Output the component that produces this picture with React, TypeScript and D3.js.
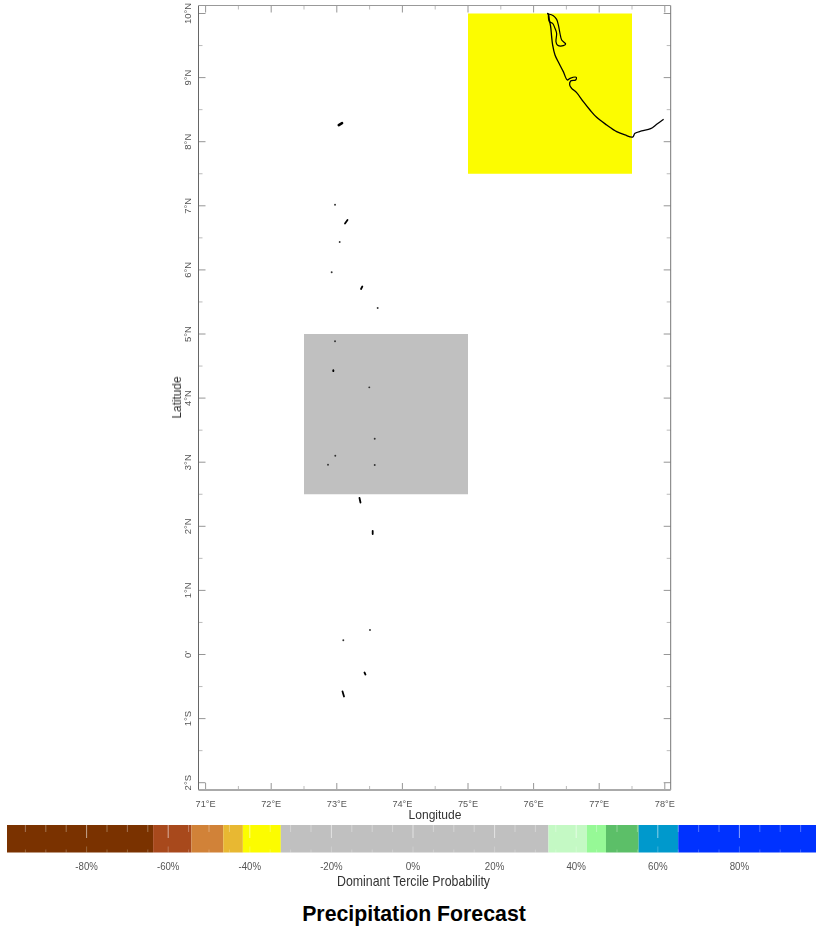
import React from "react";
import * as d3 from "d3";

// Colour classes of the dominant tercile probability (upper edges, %)
const classEdges = [-63.7, -54.3, -46.5, -41.7, -32.4, 33.2, 42.6, 47.3, 55.3, 65];
const classColors = ["#7a3300", "#a8491e", "#d18238", "#e8b830", "#fcfc00", "#c0c0c0", "#c4f9c4", "#96f996", "#5cbf68", "#0099cc", "#0033ff"];
const barLabels = [-80, -60, -40, -20, 0, 20, 40, 60, 80];
const barTicks = d3.range(-95, 100, 5);

// Forecast cells
const cellLon = [75, 72.5];
const cellLat = [7.5, 2.5];
const cellValue = [-37, 0];
const cellSize = 2.5;

// Axes
const lonTicks = [71, 72, 73, 74, 75, 76, 77, 78];
const latTicks = [10, 9, 8, 7, 6, 5, 4, 3, 2, 1, 0, -1, -2];
const latLabels = ["10°N", "9°N", "8°N", "7°N", "6°N", "5°N", "4°N", "3°N", "2°N", "1°N", "0'", "1°S", "2°S"];
const lonMinor = d3.range(71.5, 78, 1);
const latMinor = d3.range(-1.5, 10, 1);

// Coast of south-west India, [lon, lat]
const coast: [number, number][] = [
  [76.205, 10.0], [76.225, 9.992], [76.24, 9.899], [76.26, 9.795], [76.275, 9.639], [76.29, 9.509], [76.326, 9.353],
  [76.387, 9.223], [76.453, 9.093], [76.514, 8.963], [76.555, 8.989], [76.651, 9.004], [76.641, 8.963],
  [76.565, 8.947], [76.55, 8.885], [76.58, 8.833], [76.656, 8.765], [76.758, 8.625], [76.86, 8.495],
  [76.961, 8.38], [77.114, 8.261], [77.266, 8.157], [77.393, 8.105], [77.51, 8.073], [77.546, 8.131],
  [77.647, 8.167], [77.784, 8.203], [77.876, 8.271], [77.982, 8.349],
];
const lagoon: [number, number][] = [
  [76.225, 9.992], [76.301, 9.966], [76.351, 9.909], [76.377, 9.821], [76.402, 9.691], [76.428, 9.587],
  [76.489, 9.524], [76.453, 9.498], [76.362, 9.509], [76.341, 9.561], [76.351, 9.691], [76.326, 9.769],
  [76.29, 9.847], [76.24, 9.873], [76.225, 9.992],
];

// Lakshadweep and Maldives islands
const islands: [number, number][][] = [
  [[73.03, 8.26], [73.08, 8.29]],
  [[73.125, 6.724], [73.163, 6.778]],
  [[73.369, 5.702], [73.389, 5.741]],
  [[72.947, 4.42], [72.947, 4.436]],
  [[73.346, 2.442], [73.361, 2.371]],
  [[73.547, 1.927], [73.547, 1.88]],
  [[73.422, -0.281], [73.437, -0.313]],
  [[73.087, -0.577], [73.11, -0.655]],
];
const islets: [number, number][] = [
  [72.973, 7.017], [73.044, 6.435], [72.922, 5.963], [73.623, 5.406], [72.973, 4.886], [73.495, 4.168],
  [73.578, 3.367], [72.977, 3.101], [72.866, 2.961], [73.578, 2.956], [73.506, 0.382], [73.099, 0.222],
];

const FONT = "'Liberation Sans', Arial, sans-serif";

export default function App() {
  const x = d3.scaleLinear().domain([71, 78]).range([205.6, 664.8]);
  const y = d3.scaleLinear().domain([10, -2]).range([13.5, 782.7]);
  const L = 198.5, R = 670.7, T = 5.5, B = 790;
  const major = 7, minor = 4;
  const line = d3.line<[number, number]>().x((d) => x(d[0])).y((d) => y(d[1])).curve(d3.curveCatmullRom.alpha(0.5));
  const straight = d3.line<[number, number]>().x((d) => x(d[0])).y((d) => y(d[1]));
  const color = d3.scaleThreshold<number, string>().domain(classEdges).range(classColors);

  const bx = d3.scaleLinear().domain([0, 20]).range([413, 494.6]);
  const barL = 7, barR = 816, barT = 825, barB = 852.5;
  const edges = [bx.invert(barL), ...classEdges, bx.invert(barR)];
  const tick = "#8a8a8a";

  return (
    <svg width={816} height={935} viewBox="0 0 816 935" style={{ position: "absolute", left: 0, top: 0, display: "block" }} fontFamily={FONT}>
      <defs>
        <filter id="soft" x="-2%" y="-2%" width="104%" height="104%">
          <feGaussianBlur stdDeviation="0.45" />
        </filter>
      </defs>
      <rect width={816} height={935} fill="#fff" />
      <g filter="url(#soft)">
        {cellLon.map((lon, i) => (
          <rect key={i} x={x(lon)} y={y(cellLat[i] + cellSize)} width={x(lon + cellSize) - x(lon)} height={y(cellLat[i]) - y(cellLat[i] + cellSize)} fill={color(cellValue[i])} />
        ))}
        <path d={line(coast) ?? ""} fill="none" stroke="#000" strokeWidth={1.3} />
        <path d={line(lagoon) ?? ""} fill="none" stroke="#000" strokeWidth={1.2} />
        {islands.map((d, i) => (
          <path key={i} d={straight(d) ?? ""} stroke="#000" strokeWidth={i === 0 ? 2.6 : 1.8} strokeLinecap="round" fill="none" />
        ))}
        {islets.map((d, i) => (
          <circle key={i} cx={x(d[0])} cy={y(d[1])} r={0.95} fill="#333" />
        ))}

        {lonTicks.map((d) => (
          <g key={d} stroke={tick} strokeWidth={0.9}>
            <line x1={x(d)} x2={x(d)} y1={B} y2={B - major} />
            <line x1={x(d)} x2={x(d)} y1={T} y2={T + major} />
          </g>
        ))}
        {lonMinor.map((d) => (
          <g key={d} stroke="#aaa" strokeWidth={0.8}>
            <line x1={x(d)} x2={x(d)} y1={B} y2={B - minor} />
            <line x1={x(d)} x2={x(d)} y1={T} y2={T + minor} />
          </g>
        ))}
        {latTicks.map((d) => (
          <g key={d} stroke={tick} strokeWidth={0.9}>
            <line y1={y(d)} y2={y(d)} x1={L} x2={L + major} />
            <line y1={y(d)} y2={y(d)} x1={R} x2={R - major} />
          </g>
        ))}
        {latMinor.map((d) => (
          <g key={d} stroke="#aaa" strokeWidth={0.8}>
            <line y1={y(d)} y2={y(d)} x1={L} x2={L + minor} />
            <line y1={y(d)} y2={y(d)} x1={R} x2={R - minor} />
          </g>
        ))}
        <line x1={L} x2={L} y1={T} y2={B} stroke="#666" strokeWidth={1} />
        <line x1={R} x2={R} y1={T} y2={B} stroke="#777" strokeWidth={1} />
        <line x1={L} x2={R} y1={T} y2={T} stroke="#999" strokeWidth={1} />
        <line x1={L} x2={R} y1={B} y2={B} stroke="#aaa" strokeWidth={2} />

        {edges.slice(0, -1).map((e, i) => (
          <rect key={i} x={bx(e)} y={barT} width={bx(edges[i + 1]) - bx(e)} height={barB - barT} fill={classColors[i]} />
        ))}
        {barTicks.map((d) => {
          const isMajor = barLabels.includes(d);
          return (
            <g key={d} stroke="#fff" strokeWidth={0.8}>
              <line x1={bx(d)} x2={bx(d)} y1={barT} y2={barT + (isMajor ? 13 : 7)} strokeOpacity={isMajor ? 0.7 : 0.4} />
              <line x1={bx(d)} x2={bx(d)} y1={barB} y2={barB - (isMajor ? 6 : 3)} strokeOpacity={0.3} />
            </g>
          );
        })}
      </g>

      <g fill="#555" filter="url(#soft)">
        {lonTicks.map((d) => (
          <text key={d} x={x(d)} y={807} fontSize={9.5} textAnchor="middle" textLength={20} lengthAdjust="spacingAndGlyphs">{`${d}°E`}</text>
        ))}
        {latTicks.map((d, i) => (
          <text key={d} transform={`translate(190.5,${y(d)}) rotate(-90)`} fontSize={9.5} textAnchor="middle">{latLabels[i]}</text>
        ))}
        {barLabels.map((d) => (
          <text key={d} x={bx(d)} y={869.5} fontSize={11} textAnchor="middle" textLength={d === 0 ? 14.5 : d < 0 ? 22.5 : 19.5} lengthAdjust="spacingAndGlyphs">{`${d}%`}</text>
        ))}
      </g>
      <g fill="#333" filter="url(#soft)">
        <text x={435} y={819} fontSize={12} textAnchor="middle" textLength={53} lengthAdjust="spacingAndGlyphs">Longitude</text>
        <text transform="translate(181,397.5) rotate(-90)" fontSize={12} textAnchor="middle" textLength={42} lengthAdjust="spacingAndGlyphs">Latitude</text>
        <text x={413.5} y={886} fontSize={15} textAnchor="middle" textLength={153} lengthAdjust="spacingAndGlyphs">Dominant Tercile Probability</text>
      </g>
      <text x={414} y={921} fontSize={21.3} fontWeight="bold" fill="#000" textAnchor="middle">Precipitation Forecast</text>
    </svg>
  );
}
